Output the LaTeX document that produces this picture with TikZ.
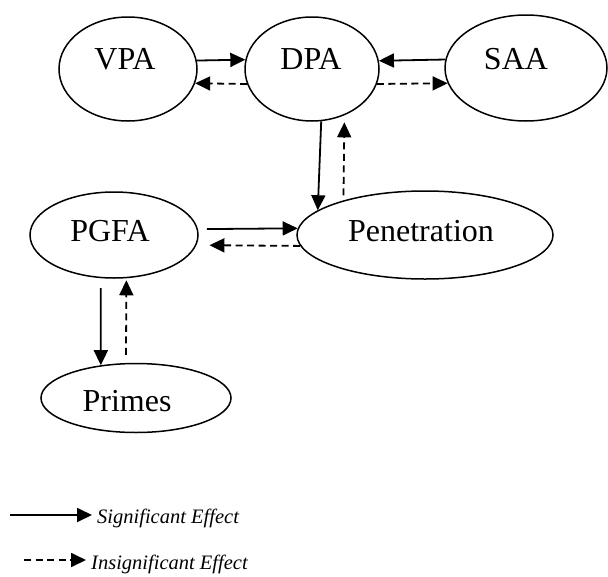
\documentclass[tikz,border=0pt]{standalone}
\usepackage{fontspec}
\setmainfont{Liberation Serif}
\usetikzlibrary{arrows.meta,shapes.geometric}
\tikzset{
  ell/.style={draw,ellipse,line width=1.5pt,inner sep=0pt},
  lbl/.style={anchor=base,font=\fontsize{32}{38}\selectfont,inner sep=0pt},
  leg/.style={anchor=base west,font=\fontsize{20.5}{24}\selectfont\itshape,inner sep=0pt},
  sig/.style={line width=1.8pt,-{Triangle[length=15pt,width=14pt]}},
  insig/.style={sig,dash pattern=on 7pt off 4.5pt},
}
\begin{document}
\begin{tikzpicture}[x=1pt,y=-1pt]
\useasboundingbox (0,0) rectangle (608,576);
% ellipses
\node[ell,minimum width=138pt,minimum height=104pt] (vpa) at (128,69) {};
\node[ell,minimum width=134pt,minimum height=104pt] (dpa) at (312,69) {};
\node[ell,minimum width=162pt,minimum height=106pt] (saa) at (526,68) {};
\node[ell,minimum width=168pt,minimum height=86pt] (pgfa) at (114,235) {};
\node[ell,minimum width=256pt,minimum height=88pt] (pen) at (425,235) {};
\node[ell,minimum width=190pt,minimum height=69pt] (primes) at (136,398) {};
% labels
\node[lbl] (vpat) at (125,69) {VPA};
\node[lbl] (dpat) at (311,69) {DPA};
\node[lbl] (saat) at (516,69) {SAA};
\node[lbl] (pgfat) at (110,241) {PGFA};
\node[lbl] (pent) at (421,241) {Penetration};
\node[lbl] (primest) at (127,411) {Primes};
% connectors
\draw[sig] (vpa.7.5) -- (dpa.172.2);
\draw[insig] (dpa.193.1) -- (vpa.-12.8);
\draw[sig] (saa.174.3) -- (dpa.7.8);
\draw[insig] (dpa.-13.1) -- (saa.191.7);
\draw[sig] (dpa.-80.1) -- (pen.167.7);
\draw[insig,shorten <=5pt,shorten >=7pt] (pen.157.2) -- (dpa.-55);
\draw[sig,shorten <=9pt] (pgfa.4.1) -- (pen.177.3);
\draw[insig,shorten >=13pt] (pen.185.1) -- (pgfa.-7.7);
\draw[sig,shorten <=10pt] (pgfa.-107) -- (primes.137.5);
\draw[insig,shorten <=8pt,shorten >=2pt] (primes.106.3) -- (pgfa.-74.3);
% legend
\coordinate (l1a) at (10,515);
\coordinate (l1b) at (92,515);
\coordinate (l2a) at (24,560);
\coordinate (l2b) at (86,560);
\draw[sig] (l1a) -- (l1b);
\draw[insig] (l2a) -- (l2b);
\node[leg] (sigt) at (97,523) {Significant Effect};
\node[leg] (insigt) at (91,569) {Insignificant Effect};
\end{tikzpicture}
\end{document}
